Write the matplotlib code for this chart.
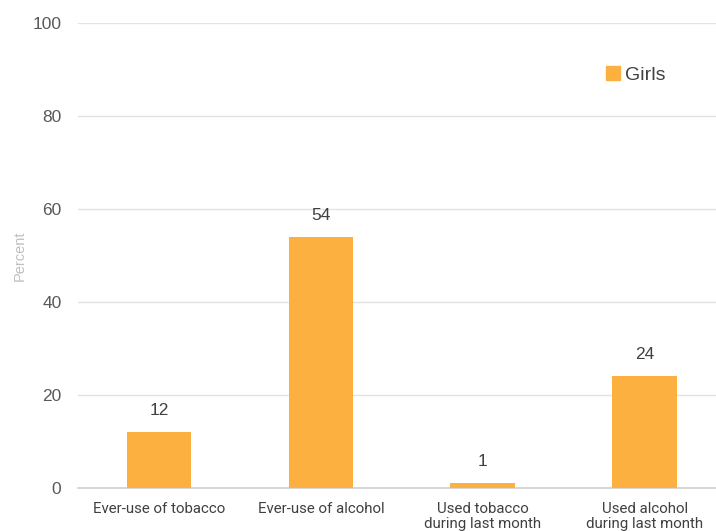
import matplotlib.pyplot as plt
from matplotlib.patches import Patch

categories = ["Ever-use of tobacco", "Ever-use of alcohol",
              "Used tobacco\nduring last month", "Used alcohol\nduring last month"]
girls = [12, 54, 1, 24]
yticks = [0, 20, 40, 60, 80, 100]

bar_color = "#fbb040"
text_color = "#595959"

fig = plt.figure(figsize=(7.16, 5.31), dpi=100)
ax = fig.add_axes([0.109, 0.081, 0.891, 0.876])

x = range(len(categories))
bars = ax.bar(x, girls, width=0.4, color=bar_color, zorder=3)
for b, v in zip(bars, girls):
    ax.text(b.get_x() + b.get_width() / 2, v + 3, str(v), ha="center", va="bottom",
            fontsize=12.5, color="#404040", family="Liberation Sans")

ax.set_xlim(-0.5, 3.44)
ax.set_ylim(0, 100)
ax.set_yticks(yticks)
ax.set_xticks(list(x))
ax.set_xticklabels(categories, fontsize=10.8, color="#404040", family="Roboto",
                   linespacing=1.1)
ax.tick_params(axis="y", labelsize=12.5, labelcolor=text_color, length=0, pad=12)
ax.tick_params(axis="x", length=0, pad=10)
for lbl in ax.get_yticklabels():
    lbl.set_family("Liberation Sans")

ax.grid(axis="y", color="#e3e3e3", linewidth=1, zorder=0)
for s in ["top", "right", "left"]:
    ax.spines[s].set_visible(False)
ax.spines["bottom"].set_color("#d0d0d0")
ax.spines["bottom"].set_linewidth(1.2)

ax.set_ylabel("Percent", fontsize=10.5, color="#bfbfbf", family="Liberation Sans", labelpad=4)

ax.legend(handles=[Patch(color=bar_color, label="Girls")], loc="upper left",
          bbox_to_anchor=(0.80, 0.945), frameon=False, handlelength=0.7, handleheight=0.7,
          handletextpad=0.3, prop={"family": "Liberation Sans", "size": 14},
          labelcolor="#404040")

fig.savefig("out.png", dpi=100)
